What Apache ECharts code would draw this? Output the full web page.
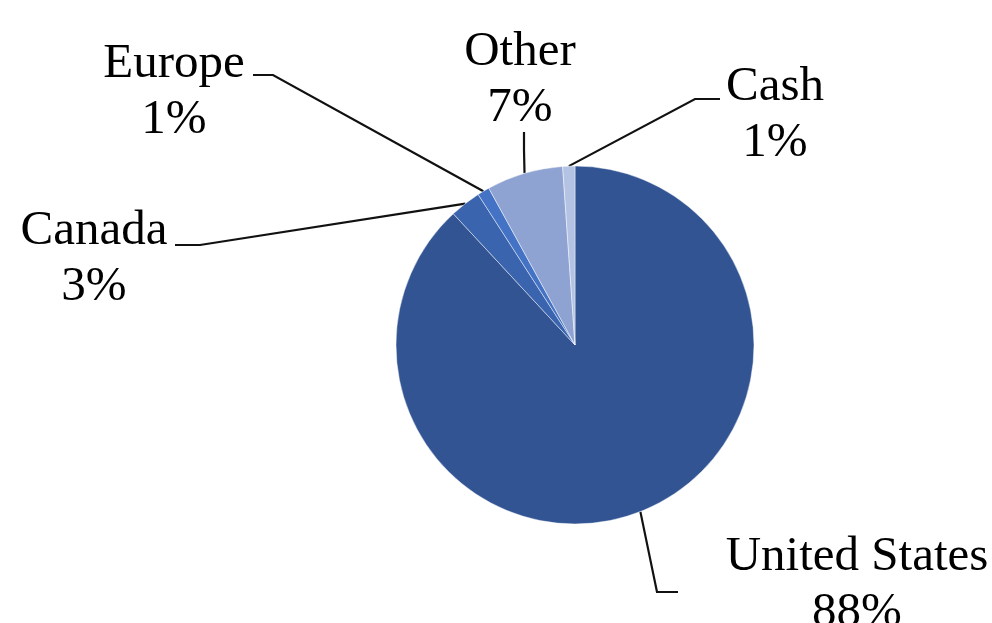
<!DOCTYPE html>
<html>
<head>
<meta charset="utf-8">
<script src="https://cdn.jsdelivr.net/npm/echarts@6/dist/echarts.min.js"></script>
<style>
html,body{margin:0;padding:0;background:#fff;}
#chart{width:992px;height:623px;}
</style>
</head>
<body>
<div id="chart"></div>
<script>
var categories = ['United States', 'Canada', 'Europe', 'Other', 'Cash'];
var shares = [88.1, 2.8, 1.1, 6.9, 1.1];

var sliceColors = ['#325493', '#3A64AE', '#4472C4', '#8FA3D3', '#B4C2E3'];

// label anchor (text block centre) and leader-line elbow/end, in pixels
var labelPlacement = [
  { x: 857, y: 585, elbow: [657, 592], end: [678, 592] },
  { x: 94,  y: 259, elbow: [200, 245], end: [175, 245] },
  { x: 174, y: 92,  elbow: [273, 75],  end: [253, 75] },
  { x: 520, y: 80,  elbow: [524, 150], end: [524, 132] },
  { x: 775, y: 115, elbow: [695, 99],  end: [720, 99] }
];

var chart = echarts.init(document.getElementById('chart'), null, { renderer: 'canvas' });

var data = categories.map(function (name, i) {
  return { name: name, value: shares[i], itemStyle: { color: sliceColors[i] } };
});

chart.setOption({
  backgroundColor: '#ffffff',
  animation: false,
  series: [{
    type: 'pie',
    center: [575, 345],
    radius: 179,
    startAngle: 90,
    clockwise: true,
    avoidLabelOverlap: false,
    itemStyle: { borderColor: 'rgba(255,255,255,0.45)', borderWidth: 1 },
    label: {
      show: true,
      position: 'outside',
      fontFamily: 'Liberation Serif',
      fontSize: 49,
      lineHeight: 56,
      color: '#000',
      align: 'center',
      formatter: function (p) { return p.name + '\n' + Math.round(p.percent) + '%'; }
    },
    labelLine: {
      show: true,
      length: 20,
      length2: 20,
      lineStyle: { color: '#111', width: 2.2 }
    },
    emphasis: { disabled: true },
    labelLayout: function (params) {
      var p = labelPlacement[params.dataIndex];
      var edge = params.labelLinePoints ? params.labelLinePoints[0] : p.elbow;
      return {
        x: p.x,
        y: p.y,
        align: 'center',
        verticalAlign: 'middle',
        labelLinePoints: [edge, p.elbow, p.end]
      };
    },
    data: data
  }]
});
</script>
</body>
</html>
